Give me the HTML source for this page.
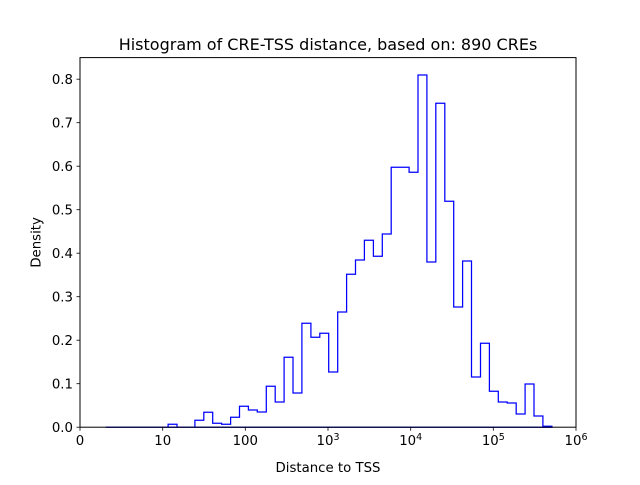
<!DOCTYPE html>
<html><head><meta charset="utf-8"><style>
html,body{margin:0;padding:0;background:#fff;}
svg text{font-family:"DejaVu Sans","Liberation Sans",sans-serif;fill:#000;}
</style></head><body>
<svg width="640" height="480" viewBox="0 0 640 480" xmlns="http://www.w3.org/2000/svg">
<rect width="640" height="480" fill="#fff"/>
<path fill="none" stroke="#0000ff" stroke-width="1.25" stroke-linejoin="miter" d="M105.6 427.2 H168.1 V424.3 H177 V427.2 H194.9 V420.3 H203.8 V412.3 H212.7 V423.3 H221.6 V424.3 H230.6 V417.3 H239.5 V406.3 H248.4 V410 H257.3 V412 H266.3 V386.3 H275.2 V402 H284.1 V357.3 H293 V393 H301.9 V323.3 H310.9 V337.3 H319.8 V333.3 H328.7 V372 H337.7 V312 H346.6 V274.3 H355.5 V260 H364.4 V240.3 H373.4 V256.3 H382.3 V234 H391.2 V167.3 H409.1 V172.3 H418 V75 H426.9 V262 H435.8 V103.3 H444.8 V201.3 H453.7 V307 H462.6 V261 H471.5 V377 H480.5 V343.3 H489.4 V391.3 H498.3 V402 H507.2 V403 H516.2 V414 H525.1 V384 H534 V416 H542.9 V426.3 H551.9 V427.2 Z"/>
<rect x="80" y="57.6" width="496" height="369.6" fill="none" stroke="#000" stroke-width="1"/>
<g stroke="#000" stroke-width="0.8">
<line x1="80" y1="427.2" x2="80" y2="430.7"/>
<line x1="162.7" y1="427.2" x2="162.7" y2="430.7"/>
<line x1="245.3" y1="427.2" x2="245.3" y2="430.7"/>
<line x1="328" y1="427.2" x2="328" y2="430.7"/>
<line x1="410.7" y1="427.2" x2="410.7" y2="430.7"/>
<line x1="493.3" y1="427.2" x2="493.3" y2="430.7"/>
<line x1="576" y1="427.2" x2="576" y2="430.7"/>
<line x1="76.5" y1="427.2" x2="80" y2="427.2"/>
<line x1="76.5" y1="383.7" x2="80" y2="383.7"/>
<line x1="76.5" y1="340.2" x2="80" y2="340.2"/>
<line x1="76.5" y1="296.7" x2="80" y2="296.7"/>
<line x1="76.5" y1="253.2" x2="80" y2="253.2"/>
<line x1="76.5" y1="209.7" x2="80" y2="209.7"/>
<line x1="76.5" y1="166.2" x2="80" y2="166.2"/>
<line x1="76.5" y1="122.7" x2="80" y2="122.7"/>
<line x1="76.5" y1="79.2" x2="80" y2="79.2"/>
</g>
<g font-size="13.3" text-anchor="middle">
<text x="80" y="445">0</text>
<text x="162.7" y="445">10</text>
<text x="245.3" y="445">100</text>
<text x="328" y="445">10<tspan font-size="9.5" dy="-5">3</tspan></text>
<text x="410.7" y="445">10<tspan font-size="9.5" dy="-5">4</tspan></text>
<text x="493.3" y="445">10<tspan font-size="9.5" dy="-5">5</tspan></text>
<text x="576" y="445">10<tspan font-size="9.5" dy="-5">6</tspan></text>
</g>
<g font-size="13.3" text-anchor="end">
<text x="73" y="432">0.0</text>
<text x="73" y="388.5">0.1</text>
<text x="73" y="345">0.2</text>
<text x="73" y="301.5">0.3</text>
<text x="73" y="258">0.4</text>
<text x="73" y="214.5">0.5</text>
<text x="73" y="171">0.6</text>
<text x="73" y="127.5">0.7</text>
<text x="73" y="84">0.8</text>
</g>
<text x="328" y="472" font-size="13.3" text-anchor="middle">Distance to TSS</text>
<text x="0" y="0" font-size="13.3" text-anchor="middle" transform="translate(40.5 242.4) rotate(-90)">Density</text>
<text x="328" y="50" font-size="16" text-anchor="middle">Histogram of CRE-TSS distance, based on: 890 CREs</text>
</svg>
</body></html>
